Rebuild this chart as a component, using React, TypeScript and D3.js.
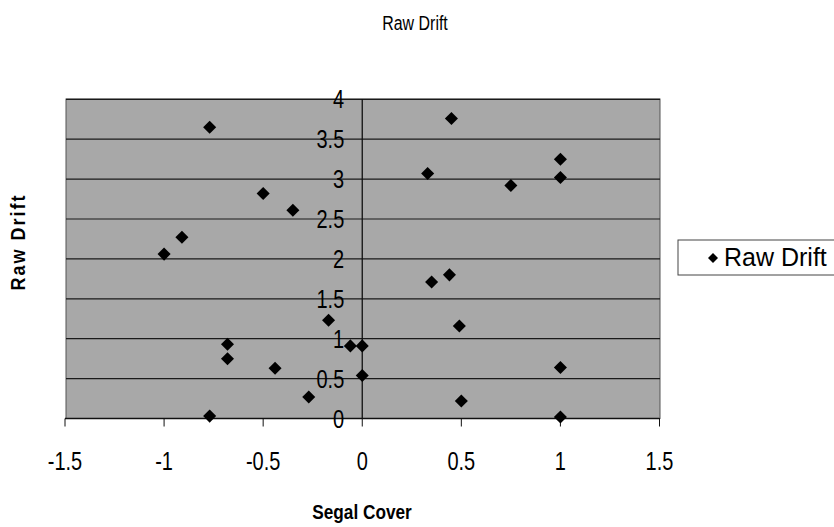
import React from "react";
import * as d3 from "d3";

const segalCover: number[] = [
  -0.77, -0.5, -0.35, -0.91, -1.0, 0.45, 0.33, 0.75, 1.0, 1.0,
  -0.17, -0.68, -0.68, -0.44, -0.27, -0.77, -0.06, 0.0, 0.0,
  0.35, 0.44, 0.49, 1.0, 0.5, 1.0,
];
const rawDrift: number[] = [
  3.65, 2.82, 2.61, 2.27, 2.06, 3.76, 3.07, 2.92, 3.25, 3.02,
  1.23, 0.93, 0.75, 0.63, 0.27, 0.03, 0.91, 0.91, 0.54,
  1.71, 1.8, 1.16, 0.64, 0.22, 0.02,
];
const xTicks: number[] = [-1.5, -1, -0.5, 0, 0.5, 1, 1.5];
const yTicks: number[] = [0, 0.5, 1, 1.5, 2, 2.5, 3, 3.5, 4];
const titleText = "Raw Drift";
const xLabel = "Segal Cover";
const yLabel = "Raw Drift";
const seriesName = "Raw Drift";

const W = 834;
const H = 527;
const plot = { left: 66, right: 660, top: 99, bottom: 418.5 };
const FONT = "'Liberation Sans', Arial, sans-serif";

function T(props: {
  x: number;
  y: number;
  sx?: number;
  rot?: number;
  size: number;
  anchor?: string;
  bold?: boolean;
  ls?: number;
  children: React.ReactNode;
}) {
  const { x, y, sx = 1, rot = 0, size, anchor = "start", bold, ls, children } = props;
  return (
    <g transform={`translate(${x},${y}) rotate(${rot}) scale(${sx},1)`}>
      <text
        x={0}
        y={0}
        textAnchor={anchor as any}
        fontSize={size}
        fontWeight={bold ? "bold" : "normal"}
        letterSpacing={ls}
        fill="#000"
      >
        {children}
      </text>
    </g>
  );
}

export default function App() {
  const x = d3.scaleLinear().domain([-1.5, 1.5]).range([65, 659.5]);
  const y = d3.scaleLinear().domain([0, 4]).range([418.5, 99.3]);
  const diamond = d3.symbol().type(d3.symbolSquare).size(85)();
  const legendDiamond = d3.symbol().type(d3.symbolSquare).size(50)();
  const fmt = (v: number) => String(v);

  return (
    <svg
      width={W}
      height={H}
      style={{ position: "absolute", left: 0, top: 0, background: "#fff" }}
      fontFamily={FONT}
    >
      <T x={415} y={30} size={21} sx={0.76} anchor="middle">
        {titleText}
      </T>

      {/* plot area */}
      <rect
        x={plot.left}
        y={plot.top}
        width={plot.right - plot.left}
        height={plot.bottom - plot.top}
        fill="#a8a8a8"
        stroke="#555"
        strokeWidth={1}
      />

      {/* horizontal gridlines */}
      {yTicks.map((t) => (
        <line
          key={"g" + t}
          x1={plot.left}
          x2={plot.right}
          y1={y(t)}
          y2={y(t)}
          stroke="#1a1a1a"
          strokeWidth={1.2}
        />
      ))}

      {/* y axis at x=0 */}
      <line x1={x(0)} x2={x(0)} y1={plot.top} y2={plot.bottom} stroke="#111" strokeWidth={1.3} />

      {/* x axis */}
      <line x1={x(-1.5)} x2={x(1.5)} y1={y(0)} y2={y(0)} stroke="#111" strokeWidth={1.3} />
      {xTicks.map((t) => (
        <g key={"xt" + t}>
          <line x1={x(t)} x2={x(t)} y1={y(0)} y2={y(0) + 8} stroke="#111" strokeWidth={1} />
          <T x={x(t)} y={470} size={25} sx={0.8} anchor="middle">
            {fmt(t)}
          </T>
        </g>
      ))}

      {/* y tick labels */}
      {yTicks.map((t) => (
        <T key={"yt" + t} x={x(0) - 18} y={y(t) + 9} size={25} sx={0.8} anchor="end">
          {fmt(t)}
        </T>
      ))}

      {/* points */}
      {segalCover.map((sx, i) => (
        <path
          key={"p" + i}
          d={diamond || ""}
          transform={`translate(${x(sx)},${y(rawDrift[i])}) rotate(45)`}
          fill="#000"
        />
      ))}

      {/* axis titles */}
      <T x={362} y={519} size={21} sx={0.82} anchor="middle" bold>
        {xLabel}
      </T>
      <g transform="translate(25,242) rotate(-90) scale(0.9,1)">
        <text
          x={0}
          y={0}
          textAnchor="middle"
          fontSize={20}
          fontWeight="bold"
          letterSpacing={2.2}
          fill="#000"
        >
          {yLabel}
        </text>
      </g>

      {/* legend */}
      <rect x={678} y={240} width={158} height={35} fill="#fff" stroke="#444" strokeWidth={1} />
      <path d={legendDiamond || ""} transform="translate(713,258) rotate(45)" fill="#000" />
      <T x={724} y={266} size={25} sx={1.0}>
        {seriesName}
      </T>
    </svg>
  );
}
